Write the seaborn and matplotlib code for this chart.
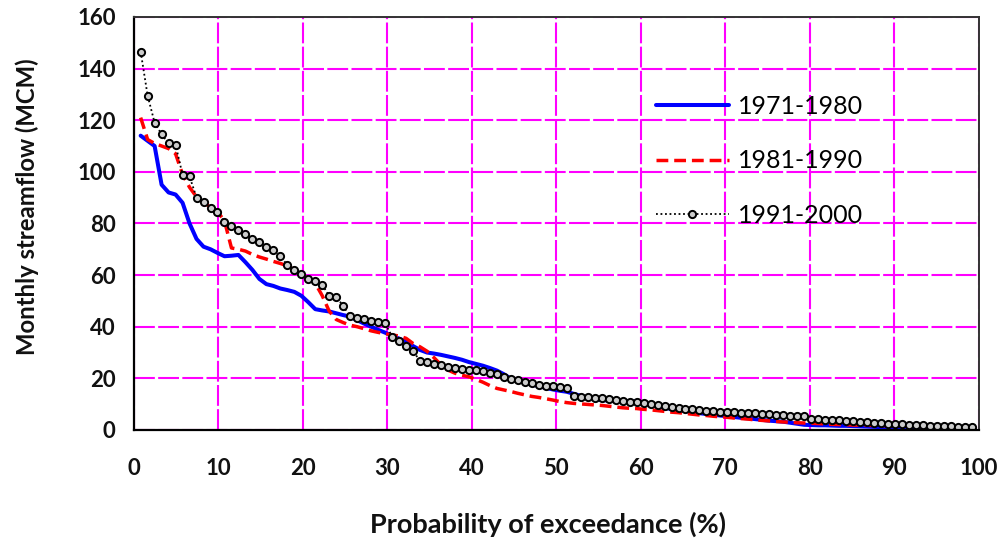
import numpy as np
import pandas as pd
import seaborn as sns
import matplotlib
matplotlib.use("Agg")
import matplotlib.pyplot as plt

# Ranked monthly streamflow (MCM), 120 months per decade, highest first
flow_1971_1980 = [114, 112, 110, 95, 92, 91.2, 88, 80, 74, 71,
                  70, 68.6, 67.3, 67.5, 67.8, 65, 62, 58.5, 56.5, 55.8,
                  54.8, 54.2, 53.5, 52, 49.5, 46.8, 46.3, 45.9, 45.2, 44.5,
                  43.9, 42.5, 41.2, 40, 38.8, 37.7, 36.5, 35.4, 34.2, 32.5,
                  31, 30, 29.6, 29.1, 28.5, 27.9, 27.2, 26.3, 25.6, 24.9,
                  24, 23, 21.6, 19.8, 19, 18.3, 17.6, 17, 16.3, 15.7,
                  15.2, 14.8, 14, 13.2, 12.5, 11.9, 11.6, 11.4, 11.3, 11.2,
                  11.1, 11, 10.5, 9.8, 9.2, 8.6, 8.1, 7.7, 7.3, 6.9,
                  6.5, 6.2, 5.9, 5.6, 5.3, 5, 4.7, 4.5, 4.2, 3.9,
                  3.6, 3.4, 3.2, 2.8, 2.4, 2, 1.9, 1.8, 1.8, 1.7,
                  1.6, 1.6, 1.5, 1.4, 1.3, 1.2, 1.1, 1.0, 1.0, 0.9,
                  0.9, 0.8, 0.8, 0.7, 0.7, 0.6, 0.6, 0.5, 0.5, 0.4]

flow_1981_1990 = [121, 112.5, 111, 110, 109, 107, 99, 94, 90.3, 88,
                  86.5, 84.6, 81, 70.5, 70, 69.3, 68, 67, 66.2, 65.3,
                  64.5, 63.6, 62, 60.4, 58.5, 56.8, 52, 46, 42.8, 41.6,
                  40.6, 40, 39.2, 38.4, 37.8, 37.3, 36.8, 36.4, 35.5, 33.5,
                  32.2, 30.5, 28, 25.2, 23.2, 22, 21.2, 20.6, 19.6, 18.5,
                  17.2, 16.1, 15.5, 14.9, 14.2, 13.6, 13, 12.6, 12.1, 11.6,
                  11, 10.6, 10.3, 10.1, 9.9, 9.7, 9.5, 9.2, 8.9, 8.6,
                  8.4, 8.3, 8, 7.8, 7.5, 7.2, 6.9, 6.7, 6.4, 6.1,
                  5.8, 5.6, 5.3, 5.1, 4.9, 4.6, 4.4, 4.2, 3.9, 3.7,
                  3.5, 3.3, 3.1, 3.0, 2.8, 2.7, 2.6, 2.5, 2.3, 2.2,
                  2.1, 2.0, 1.9, 1.85, 1.8, 1.75, 1.7, 1.6, 1.55, 1.5,
                  1.45, 1.4, 1.35, 1.3, 1.25, 1.2, 1.2, 1.15, 1.1, 1.0]

flow_1991_2000 = [146.6, 129.5, 119, 114.5, 111, 110.5, 98.8, 98.2, 90, 88.3,
                  86, 84.3, 80.5, 79, 77.6, 75.8, 74, 73, 71, 69.8,
                  67.4, 63.8, 62, 60.3, 58.3, 57.6, 56.3, 51.8, 51.7, 48,
                  44, 43.4, 43, 42.4, 41.8, 41.3, 36.2, 34.4, 32.4, 30.5,
                  26.8, 26.2, 25.6, 25, 24.4, 23.9, 23.5, 23.4, 23.2, 22.8,
                  22.2, 21.6, 20.4, 19.8, 19.2, 18.5, 18.1, 17.6, 17.1, 16.9,
                  16.6, 16.2, 13, 12.8, 12.6, 12.4, 12.2, 12, 11.7, 11.2,
                  11, 11, 10.6, 10, 9.6, 9.2, 8.8, 8.5, 8.3, 8,
                  7.7, 7.4, 7.2, 7.1, 6.9, 6.8, 6.7, 6.5, 6.4, 6.2,
                  6.1, 5.9, 5.8, 5.6, 5.5, 5.4, 4.2, 4.1, 4.0, 3.9,
                  3.7, 3.6, 3.4, 3.2, 3.0, 2.8, 2.6, 2.4, 2.3, 2.2,
                  2.0, 1.9, 1.8, 1.7, 1.6, 1.5, 1.4, 1.3, 1.2, 1.1]

series_labels = ["1971-1980", "1981-1990", "1991-2000"]
x_ticks = [0, 10, 20, 30, 40, 50, 60, 70, 80, 90, 100]
y_ticks = [0, 20, 40, 60, 80, 100, 120, 140, 160]


def exceedance(values):
    n = len(values)
    ranks = np.arange(1, n + 1)
    return ranks / (n + 1) * 100.0


frames = []
for lab, vals in zip(series_labels, [flow_1971_1980, flow_1981_1990, flow_1991_2000]):
    frames.append(pd.DataFrame({"p": exceedance(vals), "q": vals, "period": lab}))
df = pd.concat(frames, ignore_index=True)

sns.set_theme(style="white")
plt.rcParams["font.family"] = ["Lato", "DejaVu Sans"]

fig = plt.figure(figsize=(10.05, 5.46), dpi=100)
ax = fig.add_axes([0.133, 0.2125, 0.841, 0.7565])

ax.grid(True, which="major", color="#FF00FF", linewidth=1.5,
        linestyle=(0, (10, 1.6)))
ax.set_axisbelow(True)

sns.lineplot(data=df[df.period == "1971-1980"], x="p", y="q", ax=ax,
             color="#0000FF", linewidth=2.9, label="1971-1980",
             estimator=None, sort=False)
sns.lineplot(data=df[df.period == "1981-1990"], x="p", y="q", ax=ax,
             color="#FF0000", linewidth=2.5, linestyle=(0, (3.4, 1.7)),
             label="1981-1990", estimator=None, sort=False)
sns.lineplot(data=df[df.period == "1991-2000"], x="p", y="q", ax=ax,
             color="black", linewidth=1.3, linestyle=(0, (1, 1.5)),
             marker="o", markersize=5.2, markerfacecolor="#cccccc",
             markeredgecolor="black", markeredgewidth=1.4,
             label="1991-2000", estimator=None, sort=False)

ax.set_xlim(0, 100)
ax.set_ylim(0, 160)
ax.set_xticks(x_ticks)
ax.set_yticks(y_ticks)
ax.set_xticklabels([str(t) for t in x_ticks])
ax.set_yticklabels([str(t) for t in y_ticks])

ax.tick_params(axis="x", direction="out", length=6, width=1.2, color="black",
               pad=14, labelsize=16)
ax.tick_params(axis="y", direction="out", length=6, width=1.2, color="black",
               pad=7, labelsize=16)
for lab in ax.get_xticklabels() + ax.get_yticklabels():
    lab.set_fontweight("bold")
    lab.set_color("#111111")

for side in ["left", "bottom"]:
    ax.spines[side].set_color("black")
    ax.spines[side].set_linewidth(1.6)
for side in ["top", "right"]:
    ax.spines[side].set_color("#333333")
    ax.spines[side].set_linewidth(1.4)

ax.set_xlabel("Probability of exceedance (%)", fontsize=19.5,
              fontweight="bold", color="#111111")
ax.set_ylabel("Monthly streamflow (MCM)", fontsize=17.2,
              fontweight="bold", color="#111111")
ax.xaxis.set_label_coords(0.49, -0.198)
ax.yaxis.set_label_coords(-0.112, 0.54)

leg = ax.legend(loc="upper left", bbox_to_anchor=(0.618, 0.812),
                frameon=False, fontsize=18, handlelength=2.9,
                labelspacing=1.27, borderpad=0, borderaxespad=0,
                handletextpad=0.36, numpoints=1)
for t in leg.get_texts():
    t.set_color("black")

fig.savefig("out.png", dpi=100)
